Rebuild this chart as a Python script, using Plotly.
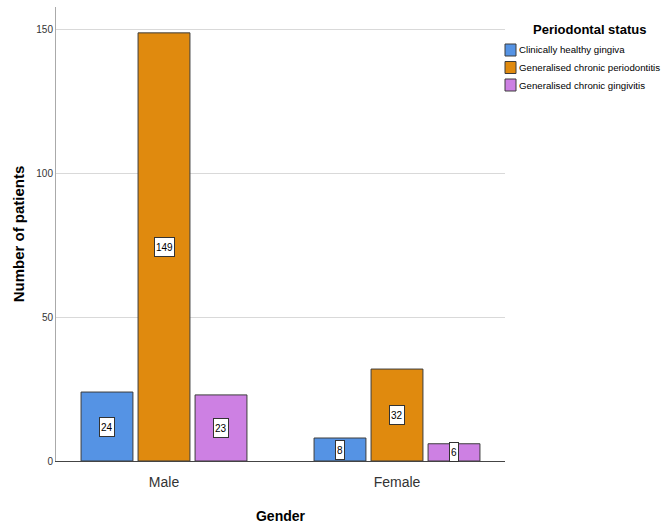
import plotly.graph_objects as go

genders = ["Male", "Female"]
statuses = [
    "Clinically healthy gingiva",
    "Generalised chronic periodontitis",
    "Generalised chronic gingivitis",
]
counts = {
    "Clinically healthy gingiva": [24, 8],
    "Generalised chronic periodontitis": [149, 32],
    "Generalised chronic gingivitis": [23, 6],
}
colors = ["#5593E4", "#E08A0E", "#CD80E3"]
y_ticks = [0, 50, 100, 150]

FONT = "Liberation Sans, Arial, sans-serif"

W, H = 668, 524
ML, MR, MT, MB = 56, 163, 7, 63
PW, PH = W - ML - MR, H - MT - MB


def px(x):
    """Horizontal pixel -> paper fraction."""
    return (x - ML) / PW


def py(y):
    """Vertical pixel (from top) -> paper fraction."""
    return (H - MB - y) / PH


bargap = 0.266
bargroupgap = 0.09
slot = (1 - bargap) / len(statuses)

fig = go.Figure()
annotations = []
shapes = []
for k, (name, col) in enumerate(zip(statuses, colors)):
    vals = counts[name]
    fig.add_trace(go.Bar(
        x=genders, y=vals, name=name,
        marker=dict(color=col, line=dict(color="#3C3C3C", width=1)),
        hoverinfo="x+y+name", showlegend=False,
    ))
    offset = -(1 - bargap) / 2 + slot * (k + 0.5)
    for i, v in enumerate(vals):
        annotations.append(dict(
            x=i + offset, y=v / 2, xref="x", yref="y",
            text=str(v), showarrow=False,
            font=dict(family=FONT, size=10, color="#000000"),
            height=16,
            bgcolor="#FFFFFF", bordercolor="#333333", borderwidth=1, borderpad=1,
        ))

    # legend entry: swatch + label
    cy = 50 + 17.5 * k
    shapes.append(dict(
        type="rect", xref="paper", yref="paper",
        x0=px(505), x1=px(516), y0=py(cy + 6), y1=py(cy - 6),
        fillcolor=col, line=dict(color="#3C3C3C", width=1),
    ))
    annotations.append(dict(
        x=px(517), y=py(cy), xref="paper", yref="paper",
        xanchor="left", yanchor="middle", text=name, showarrow=False,
        font=dict(family=FONT, size=9.7, color="#000000"),
    ))

annotations.append(dict(
    x=px(589), y=py(30), xref="paper", yref="paper",
    xanchor="center", yanchor="middle",
    text="<b>Periodontal status</b>", showarrow=False,
    font=dict(family=FONT, size=13, color="#000000"),
))

fig.update_layout(
    width=W, height=H,
    margin=dict(l=ML, r=MR, t=MT, b=MB, autoexpand=False),
    paper_bgcolor="#FFFFFF", plot_bgcolor="#FFFFFF",
    barmode="group", bargap=bargap, bargroupgap=bargroupgap,
    showlegend=False,
    xaxis=dict(
        type="category", range=[-0.4635, 1.4635],
        showline=True, linecolor="#444444", linewidth=1,
        ticks="", ticklabelstandoff=8,
        tickfont=dict(family=FONT, size=14, color="#333333"),
        title=dict(text="<b>Gender</b>", font=dict(family=FONT, size=14, color="#000000"), standoff=26),
        showgrid=False,
    ),
    yaxis=dict(
        range=[0, 158], tickvals=y_ticks,
        showline=True, linecolor="#AAAAAA", linewidth=1,
        ticks="", tickfont=dict(family=FONT, size=10, color="#333333"),
        gridcolor="#D9D9D9", gridwidth=1, zeroline=False,
        title=dict(text="<b>Number of patients</b>", font=dict(family=FONT, size=15, color="#000000"), standoff=8),
    ),
    annotations=annotations,
    shapes=shapes,
)

fig.write_html("out.html")
